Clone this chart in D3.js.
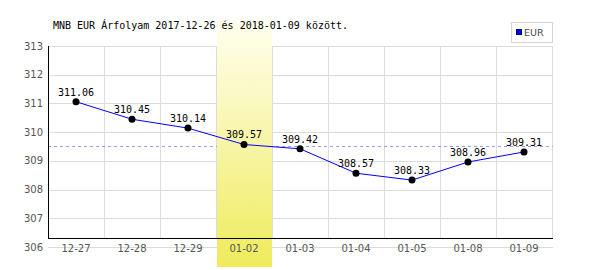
<!DOCTYPE html>
<html>
<head>
<meta charset="utf-8">
<script src="https://cdn.jsdelivr.net/npm/d3@7"></script>
<style>
  body { margin: 0; background: #fff; }
</style>
</head>
<body>
<div id="chart"></div>
<script>
// data
var dates = ["12-27", "12-28", "12-29", "01-02", "01-03", "01-04", "01-05", "01-08", "01-09"];
var rates = [311.06, 310.45, 310.14, 309.57, 309.42, 308.57, 308.33, 308.96, 309.31];
var yTicks = [306, 307, 308, 309, 310, 311, 312, 313];
var avgRate = 309.53;
var highlightDate = "01-02";
var titleText = "MNB EUR Árfolyam 2017-12-26 és 2018-01-09 között.";
var seriesName = "EUR";

var width = 600, height = 270;
var margin = {left: 48, right: 48, top: 46, bottom: 23};

var svg = d3.select("#chart").append("svg")
    .attr("width", width)
    .attr("height", height);

var xScale = d3.scaleBand()
    .domain(dates)
    .range([margin.left, width - margin.right])
    .padding(0);

var yScale = d3.scaleLinear()
    .domain([306, 313])
    .range([height - margin.bottom, margin.top]);

var axisY = yScale(306) - 9;   // the black x-axis line sits a bit above the 306 gridline

var defs = svg.append("defs");
var grad = defs.append("linearGradient")
    .attr("id", "hl")
    .attr("x1", 0).attr("y1", 0).attr("x2", 0).attr("y2", 1);
grad.append("stop").attr("offset", "0%").attr("stop-color", "#fffff0");
grad.append("stop").attr("offset", "100%").attr("stop-color", "#efeb5c");

// horizontal grid
svg.append("g").selectAll("line")
    .data(yTicks)
    .enter().append("line")
    .attr("x1", margin.left)
    .attr("x2", width - margin.right + 1)
    .attr("y1", function(d) { return Math.round(yScale(d)) + 0.5; })
    .attr("y2", function(d) { return Math.round(yScale(d)) + 0.5; })
    .style("stroke", "#dcdcdc");

// vertical grid at band edges
svg.append("g").selectAll("line")
    .data(dates)
    .enter().append("line")
    .attr("x1", function(d) { return Math.round(xScale(d) + xScale.bandwidth()) + 0.5; })
    .attr("x2", function(d) { return Math.round(xScale(d) + xScale.bandwidth()) + 0.5; })
    .attr("y1", yScale(313))
    .attr("y2", axisY)
    .style("stroke", "#dcdcdc");

// average line
svg.append("line")
    .attr("x1", margin.left)
    .attr("x2", width - margin.right + 1)
    .attr("y1", Math.round(yScale(avgRate)) + 0.5)
    .attr("y2", Math.round(yScale(avgRate)) + 0.5)
    .style("stroke", "#9a9af2")
    .style("stroke-dasharray", "3,3");

// highlighted day
svg.append("rect")
    .attr("x", xScale(highlightDate) + 1)
    .attr("y", 20)
    .attr("width", xScale.bandwidth() - 1)
    .attr("height", 247)
    .style("fill", "url(#hl)");

// axis lines
svg.append("line")
    .attr("x1", margin.left + 0.5).attr("x2", margin.left + 0.5)
    .attr("y1", yScale(313)).attr("y2", axisY)
    .style("stroke", "#000");
svg.append("line")
    .attr("x1", margin.left).attr("x2", width - margin.right + 1)
    .attr("y1", Math.round(axisY) + 0.5).attr("y2", Math.round(axisY) + 0.5)
    .style("stroke", "#000");

// y tick labels
svg.append("g").selectAll("text")
    .data(yTicks)
    .enter().append("text")
    .attr("x", margin.left - 5)
    .attr("y", function(d) { return yScale(d) + 3.5; })
    .attr("text-anchor", "end")
    .style("font-family", "DejaVu Sans, sans-serif")
    .style("font-size", "10px")
    .style("fill", "#555")
    .text(function(d) { return d; });

// x tick labels
svg.append("g").selectAll("text")
    .data(dates)
    .enter().append("text")
    .attr("x", function(d) { return xScale(d) + xScale.bandwidth() / 2; })
    .attr("y", yScale(306) + 4.5)
    .attr("text-anchor", "middle")
    .style("font-family", "DejaVu Sans, sans-serif")
    .style("font-size", "10px")
    .style("fill", "#555")
    .text(function(d) { return d; });

// series line
var line = d3.line()
    .x(function(d, i) { return xScale(dates[i]) + xScale.bandwidth() / 2; })
    .y(function(d) { return yScale(d); });

svg.append("path")
    .datum(rates)
    .attr("d", line)
    .style("fill", "none")
    .style("stroke", "#0000ff")
    .style("stroke-width", 1);

var nodes = svg.append("g").selectAll("g")
    .data(rates)
    .enter().append("g")
    .attr("transform", function(d, i) {
        return "translate(" + (xScale(dates[i]) + xScale.bandwidth() / 2) + "," + yScale(d) + ")";
    });

nodes.append("circle")
    .attr("r", 3.5)
    .style("fill", "#000");

nodes.append("text")
    .attr("y", -6)
    .attr("text-anchor", "middle")
    .style("font-family", "DejaVu Sans Mono, monospace")
    .style("font-size", "10px")
    .style("fill", "#000")
    .text(function(d) { return d.toFixed(2); });

// title
svg.append("text")
    .attr("x", 53)
    .attr("y", 29)
    .style("font-family", "DejaVu Sans Mono, monospace")
    .style("font-size", "10px")
    .style("fill", "#000")
    .text(titleText);

// legend
var legend = svg.append("g");
legend.append("rect")
    .attr("x", 511.5).attr("y", 22.5)
    .attr("width", 41).attr("height", 20)
    .style("fill", "#fff")
    .style("stroke", "#d4d4d4");
legend.append("rect")
    .attr("x", 516.5).attr("y", 29.5)
    .attr("width", 5).attr("height", 5)
    .style("fill", "#0000ff")
    .style("stroke", "#000066");
legend.append("text")
    .attr("x", 524).attr("y", 36)
    .style("font-family", "DejaVu Sans, sans-serif")
    .style("font-size", "9.5px")
    .style("fill", "#444")
    .text(seriesName);
</script>
</body>
</html>
